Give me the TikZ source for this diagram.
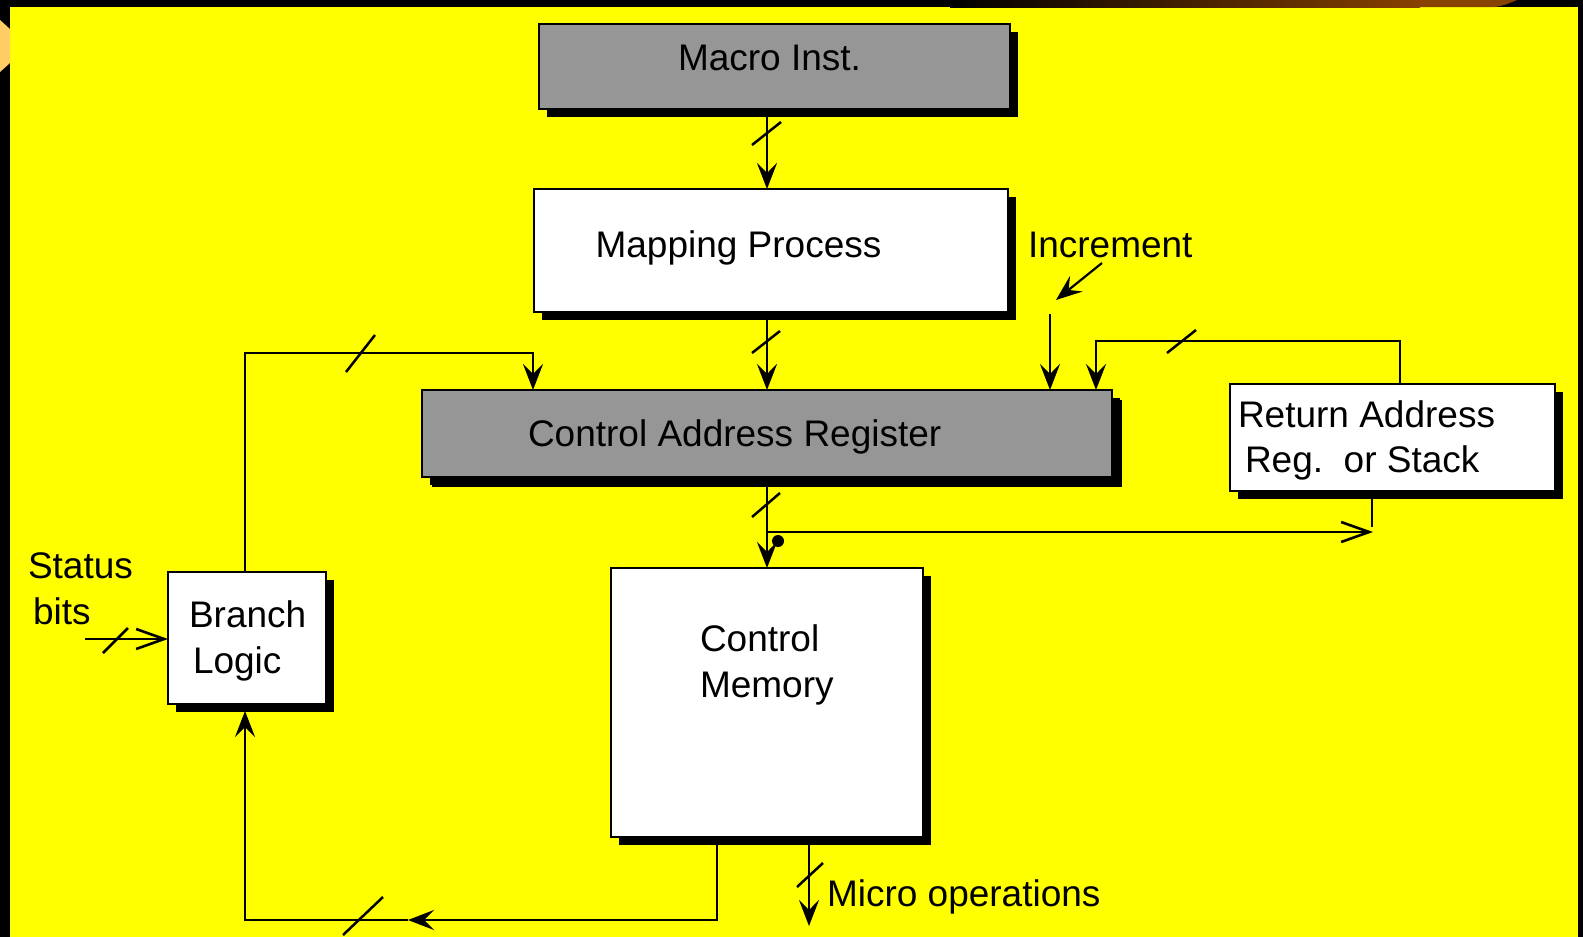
\documentclass[tikz,border=0pt]{standalone}
\usepackage{fontspec}
\setmainfont{Liberation Sans}
\usetikzlibrary{arrows.meta,shadows,calc}
\definecolor{bgyellow}{RGB}{255,255,0}
\definecolor{boxgray}{RGB}{150,150,150}
\definecolor{peach}{RGB}{255,204,102}
\definecolor{brn}{RGB}{135,65,0}
\begin{document}
\begin{tikzpicture}[x=1pt,y=-1pt,
  every node/.style={inner sep=0pt, outer sep=0pt},
  blk/.style={draw=black, line width=2pt, rectangle, drop shadow={shadow xshift=8pt, shadow yshift=-8pt, fill=black, opacity=1}},
  grayblk/.style={blk, fill=boxgray},
  whiteblk/.style={blk, fill=white},
  lbl/.style={font=\fontsize{37}{44}\selectfont, anchor=base west, text=black},
  wire/.style={line width=2.2pt},
  arr/.style={wire, -{Stealth[length=26pt,width=20pt,inset=10pt]}},
  oarr/.style={wire, -{Straight Barb[length=28pt,width=20pt,line width=2.6pt]}},
  tick/.style={line width=2.5pt},
]
\useasboundingbox (0,0) rectangle (1583,937);
% background
\fill[black] (0,0) rectangle (1583,937);
\fill[bgyellow] (10,7) rectangle (1578,937);
\fill[peach] (0,20) -- (10,29) -- (10,63) -- (0,72) -- cycle;
\shade[left color=black, right color=brn] (950,0) rectangle (1420,7);
\fill[brn] (1420,0) -- (1517,0) .. controls (1505,5) .. (1495,7) -- (1420,7) -- cycle;

% boxes
\node[grayblk, minimum width=471pt, minimum height=85pt] (macro) at (774.5,66.5) {};
\node[whiteblk, minimum width=474pt, minimum height=123pt] (map) at (771,250.5) {};
\node[grayblk, minimum width=690pt, minimum height=87pt, drop shadow={shadow xshift=10pt, shadow yshift=-10pt, fill=black, opacity=1}] (car) at (767,433.5) {};
\node[whiteblk, minimum width=325pt, minimum height=107pt] (ret) at (1392.5,437.5) {};
\node[whiteblk, minimum width=312pt, minimum height=269pt] (cm) at (767,702.5) {};
\node[whiteblk, minimum width=158pt, minimum height=132pt] (bl) at (247,638) {};

% texts
\node[lbl, anchor=base] (tmacro) at (769.5,70) {Macro Inst.};
\node[lbl, anchor=base] (tmap) at (738.5,257) {Mapping Process};
\node[lbl] (tcar) at (528,446) {Control Address Register};
\node[lbl] (tinc) at (1028,257) {Increment};
\node[lbl] (tret1) at (1238,427) {Return Address};
\node[lbl] (tret2) at (1245,472) {Reg.\ \ or Stack};
\node[lbl] (tcm1) at (700,651) {Control};
\node[lbl] (tcm2) at (700,697) {Memory};
\node[lbl] (tbl1) at (189,627) {Branch};
\node[lbl] (tbl2) at (193,673) {Logic};
\node[lbl] (tst1) at (28,578) {Status};
\node[lbl] (tst2) at (33,624) {bits};
\node[lbl] (tmicro) at (827,906) {Micro operations};

% column / helper coordinates
\coordinate (c767) at (767,0);
\coordinate (c533) at (533,0);
\coordinate (c245) at (245,0);
\coordinate (c1050) at (1050,0);
\coordinate (c1096) at (1096,0);
\coordinate (c1400) at (1400,0);
\coordinate (c1372) at (1372,0);
\coordinate (c717) at (717,0);
\coordinate (c809) at (809,0);
\coordinate (jn) at (767,532);
\coordinate (retin) at (1373,532);
\coordinate (retend) at (1372,527);
\coordinate (incA) at (1102,263);
\coordinate (incB) at (1056,300);
\coordinate (incC) at (1050,314);
\coordinate (stA) at (85,639);
\coordinate (loopL) at (245,353);
\coordinate (loopR) at (1400,341);
\coordinate (botR) at (717,920);
\coordinate (botM) at (408,920);
\coordinate (botL) at (245,920);
\coordinate (microEnd) at (809,926);

% connectors
\draw[arr] (macro.south -| c767) -- (map.north -| c767);
\draw[tick] (752,145) -- (781,122);

\draw[arr] (map.south -| c767) -- (car.north -| c767);
\draw[tick] (752,353) -- (780,331);

\draw[arr] (car.south -| c767) -- (cm.north -| c767);
\draw[tick] (752,517) -- (780,493);

\draw[oarr] (jn) -- (retin);
\fill (778,541) circle (6pt);
\draw[wire] (ret.south -| c1372) -- (retend);

\draw[arr] (ret.north -| c1400) -- (loopR) -- (loopR -| c1096) -- (car.north -| c1096);
\draw[tick] (1167,353) -- (1196,330);

\draw[arr] (incC) -- (car.north -| c1050);
\draw[arr] (incA) -- (incB);

\draw[arr] (bl.north -| c245) -- (loopL) -- (loopL -| c533) -- (car.north -| c533);
\draw[tick] (346,372) -- (375,335);

\draw[oarr] (stA) -- (stA -| bl.west);
\draw[tick] (103,653) -- (128,628);

\draw[arr] (cm.south -| c717) -- (botR) -- (botM);
\draw[arr] (botM) -- (botL) -- ($(bl.south)+(-2,7)$);
\draw[tick] (343,935) -- (383,897);

\draw[arr] (cm.south -| c809) -- (microEnd);
\draw[tick] (797,887) -- (823,863);
\end{tikzpicture}
\end{document}
